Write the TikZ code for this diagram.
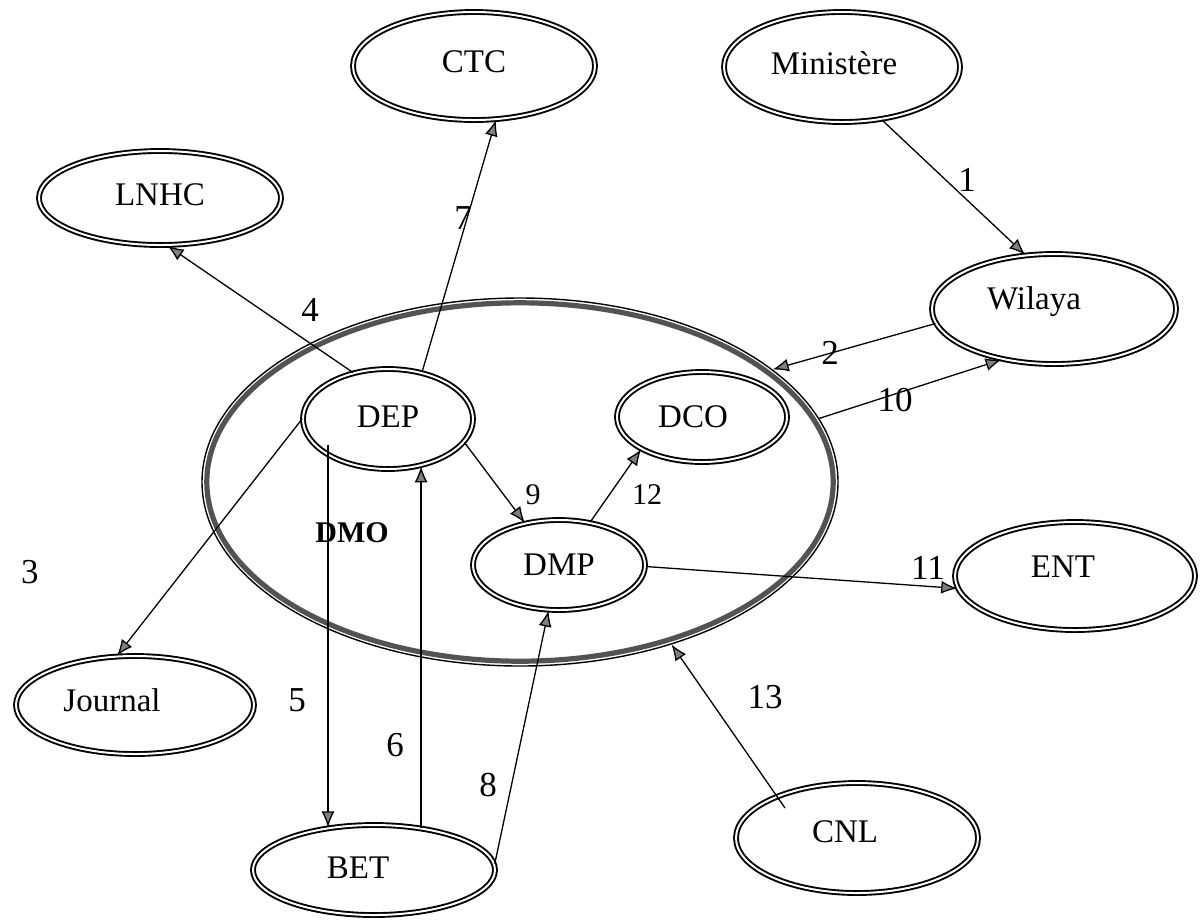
\documentclass[tikz,border=0pt]{standalone}
\usepackage{fontspec}
\setmainfont{Liberation Serif}
\usetikzlibrary{shapes.geometric,arrows.meta}

\begin{document}
\begin{tikzpicture}[x=0.5pt,y=-0.5pt,
  ent/.style={ellipse,draw,double,double distance=1pt,line width=0.95pt,inner sep=0pt},
  tx/.style={font=\fontsize{16.5}{18}\selectfont,inner sep=0pt},
  num/.style={font=\fontsize{17.5}{19}\selectfont,inner sep=0pt},
  snum/.style={font=\fontsize{15}{17}\selectfont,inner sep=0pt},
  flow/.style={line width=0.65pt,-{Latex[length=8pt,width=6.5pt,fill=gray,color=black]}}
]
\useasboundingbox (0,0) rectangle (1203,923);

% the DMO boundary: thin black outline with a thick grey inner stroke
\node[ellipse,draw,line width=0.7pt,minimum width=318pt,minimum height=184pt,inner sep=0pt] (dmo) at (520,482) {};
\draw[gray!65!black,line width=2.6pt] (dmo.center) ellipse [x radius=156.6pt,y radius=89.6pt];
\node[font=\bfseries\fontsize{15}{17}\selectfont,inner sep=0pt] (dmolbl) at (352,533) {DMO};

% actors
\node[ent,minimum width=121pt,minimum height=54pt,label={[tx,yshift=2pt]center:CTC}] (ctc) at (474,66) {};
\node[ent,minimum width=118pt,minimum height=55pt,label={[tx,xshift=-4pt,yshift=2pt]center:Ministère}] (min) at (842,67) {};
\node[ent,minimum width=121pt,minimum height=47pt,label={[tx,yshift=1.5pt]center:LNHC}] (lnhc) at (160,198) {};
\node[ent,minimum width=122pt,minimum height=55pt,label={[tx,xshift=-10pt,yshift=3.5pt]center:Wilaya}] (wil) at (1054,309) {};
\node[ent,minimum width=85pt,minimum height=50pt,label={[tx,yshift=1pt]center:DEP}] (dep) at (388,419) {};
\node[ent,minimum width=85pt,minimum height=45pt,label={[tx,xshift=-4.5pt]center:DCO}] (dco) at (702,417) {};
\node[ent,minimum width=86pt,minimum height=45pt,label={[tx]center:DMP}] (dmp) at (559,565) {};
\node[ent,minimum width=120pt,minimum height=54pt,label={[tx,xshift=-6pt,yshift=4.5pt]center:ENT}] (ent) at (1075,576) {};
\node[ent,minimum width=119pt,minimum height=49pt,label={[tx,xshift=-11.5pt,yshift=2.5pt]center:Journal}] (jour) at (135,705) {};
\node[ent,minimum width=121pt,minimum height=45pt,label={[tx,xshift=-8pt,yshift=1pt]center:BET}] (bet) at (374,870) {};
\node[ent,minimum width=121pt,minimum height=55pt,label={[tx,xshift=-6pt,yshift=3pt]center:CNL}] (cnl) at (857,838) {};

% flows
\draw[flow] (min.-53) -- (wil.118);
\draw[flow] (wil.187) -- (dmo.24);
\draw[flow] (dmo.12) -- (wil.224);
\draw[flow] (dep.127) -- (lnhc.-81);
\draw[flow] (dep.54) -- (ctc.-68);
\draw[flow] (dep.180) -- (jour.110);
\coordinate (s5) at ([xshift=-30pt,yshift=-13pt]dep.center);
\draw[flow] (s5) -- (s5 |- bet.137);
\draw[flow] (bet.42) -- (bet.42 |- dep.-56);
\draw[flow] (bet.3) -- (dmp.-103);
\draw[flow] (dep.-17) -- (dmp.129);
\draw[flow] (dmp.54) -- (dco.208);
\draw[flow] (dmp.-1) -- (ent.186);
\coordinate (s13) at ([xshift=-36pt,yshift=15pt]cnl.center);
\draw[flow] (s13) -- (dmo.-47);

% flow numbers
\node[num] (n1) at (967,180) {1};
\node[num] (n2) at (830,353) {2};
\node[num] (n3) at (30,572) {3};
\node[num] (n4) at (310,310) {4};
\node[num] (n5) at (297,700) {5};
\node[num] (n6) at (395,745) {6};
\node[num] (n7) at (463,218) {7};
\node[num] (n8) at (488,785) {8};
\node[snum] (n9) at (533,495) {9};
\node[num] (n10) at (895,400) {10};
\node[num] (n11) at (928,568) {11};
\node[snum] (n12) at (647,495) {12};
\node[num] (n13) at (765,697) {13};
\end{tikzpicture}
\end{document}
